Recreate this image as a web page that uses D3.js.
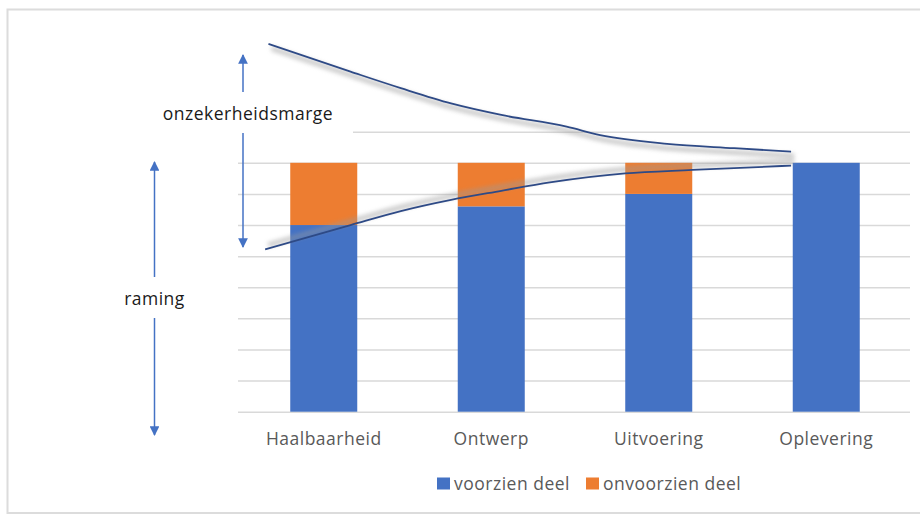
<!DOCTYPE html>
<html><head><meta charset="utf-8">
<script src="https://cdn.jsdelivr.net/npm/d3@7"></script>
<style>html,body{margin:0;padding:0;background:#fff;}svg{display:block;}</style>
</head><body><svg id="c" width="920" height="516"></svg>
<script>
// ---- data ----
const categories = ["Haalbaarheid", "Ontwerp", "Uitvoering", "Oplevering"];
const voorzien = [60, 66, 70, 80];
const onvoorzien = [20, 14, 10, 0];
const seriesNames = ["voorzien deel", "onvoorzien deel"];
const yTicks = [0, 10, 20, 30, 40, 50, 60, 70, 80, 90];
// uncertainty band curves (x in category-index units, y in chart value units)
const upperX = [-0.33, 0.16, 0.46, 0.76, 1.06, 1.45, 1.65, 2.05, 2.45, 2.79];
const upperY = [118.2, 109.3, 104.0, 99.1, 95.4, 91.6, 88.9, 86.1, 84.7, 83.6];
const lowerX = [-0.35, 0.16, 0.46, 0.76, 1.06, 1.35, 1.80, 2.20, 2.79];
const lowerY = [52.2, 60.0, 64.5, 68.1, 71.0, 73.7, 76.6, 77.7, 79.1];
const annotLabels = ["onzekerheidsmarge", "raming"];

(function () {
// ---- layout ----
const svg = d3.select("#c");
const W = 920, H = 516;
const pLeft = 240, pRight = 910, pTop = 131.7, pBottom = 411.7;
const blue = "#4472C4", orange = "#ED7D31", grid = "#D9D9D9", txt = "#595959", lineCol = "#2E4A86";
const font = "Open Sans, Noto Sans, sans-serif";
const ls = 0.5;

const x = d3.scaleBand().domain(categories).range([pLeft, pRight]).paddingInner(0.6).paddingOuter(0.3);
const y = d3.scaleLinear().domain([0, 90]).range([pBottom, pTop]);
const xc = d3.scaleLinear().domain([0, categories.length - 1])
  .range([x(categories[0]) + x.bandwidth() / 2, x(categories[categories.length - 1]) + x.bandwidth() / 2]);

const defs = svg.append("defs");
const f = defs.append("filter").attr("id", "blur").attr("x", "-10%").attr("y", "-50%").attr("width", "120%").attr("height", "200%");
f.append("feGaussianBlur").attr("stdDeviation", 2.2);
const m = defs.append("marker").attr("id", "arr").attr("viewBox", "0 0 10 10").attr("refX", 9).attr("refY", 5)
  .attr("markerWidth", 6.5).attr("markerHeight", 6.5).attr("markerUnits", "strokeWidth").attr("orient", "auto");
m.append("path").attr("d", "M0,0 L10,5 L0,10 Z").attr("fill", blue);

// background & border
svg.append("rect").attr("width", W).attr("height", H).attr("fill", "#fff");
svg.append("rect").attr("x", 7.5).attr("y", 9.5).attr("width", 930).attr("height", 503.5)
  .attr("fill", "none").attr("stroke", "#DCDCDC").attr("stroke-width", 2);

// gridlines
const yAxis = d3.axisLeft(y).tickValues(yTicks).tickSize(-(pRight - pLeft + 2)).tickFormat("");
const ga = svg.append("g").attr("transform", `translate(${pLeft - 2},0)`).call(yAxis);
ga.select(".domain").remove();
ga.selectAll(".tick line").attr("stroke", grid).attr("stroke-width", 1.5);

// stacked bars
const stackData = categories.map((c, i) => ({ cat: c, v: voorzien[i], o: onvoorzien[i] }));
const stack = d3.stack().keys(["v", "o"])(stackData);
const colors = [blue, orange];
svg.append("g").selectAll("g").data(stack).join("g").attr("fill", (d, i) => colors[i])
  .selectAll("rect").data(d => d).join("rect")
  .attr("x", d => x(d.data.cat)).attr("width", x.bandwidth())
  .attr("y", d => y(d[1])).attr("height", d => y(d[0]) - y(d[1]));

// category axis labels
const xAxis = d3.axisBottom(x).tickSize(0).tickPadding(0);
const gx = svg.append("g").attr("transform", `translate(0,${pBottom + 33.5})`).call(xAxis);
gx.select(".domain").remove();
gx.selectAll("text").attr("fill", txt).attr("font-family", font).attr("font-size", 17.5)
  .attr("letter-spacing", ls).attr("dy", 0);

// curves
const line = d3.line().x(d => xc(d[0])).y(d => y(d[1])).curve(d3.curveMonotoneX);
const upper = upperX.map((v, i) => [v, upperY[i]]);
const lower = lowerX.map((v, i) => [v, lowerY[i]]);
svg.append("path").attr("d", line(upper)).attr("fill", "none").attr("stroke", "#9a9a9a")
  .attr("stroke-width", 5).attr("opacity", 0.5).attr("filter", "url(#blur)").attr("transform", "translate(3,4.5)");
svg.append("path").attr("d", line(lower)).attr("fill", "none").attr("stroke", "#9a9a9a")
  .attr("stroke-width", 5).attr("opacity", 0.5).attr("filter", "url(#blur)").attr("transform", "translate(3,-4.5)");
svg.append("path").attr("d", line(upper)).attr("fill", "none").attr("stroke", lineCol).attr("stroke-width", 1.8);
svg.append("path").attr("d", line(lower)).attr("fill", "none").attr("stroke", lineCol).attr("stroke-width", 1.8);

// annotations: onzekerheidsmarge
const ax1 = 243, ax2 = 154.5;
svg.append("rect").attr("x", 150).attr("y", 93).attr("width", 203).attr("height", 40).attr("fill", "#fff");
svg.append("text").attr("x", 248).attr("y", 119.5).attr("text-anchor", "middle").attr("fill", "#1a1a1a")
  .attr("font-family", font).attr("font-size", 17.5).attr("letter-spacing", ls).text(annotLabels[0]);
svg.append("line").attr("x1", ax1).attr("x2", ax1).attr("y1", 92).attr("y2", 55)
  .attr("stroke", blue).attr("stroke-width", 1.5).attr("marker-end", "url(#arr)");
svg.append("line").attr("x1", ax1).attr("x2", ax1).attr("y1", 133).attr("y2", 247)
  .attr("stroke", blue).attr("stroke-width", 1.5).attr("marker-end", "url(#arr)");
// raming
svg.append("text").attr("x", ax2).attr("y", 305).attr("text-anchor", "middle").attr("fill", "#1a1a1a")
  .attr("font-family", font).attr("font-size", 17.5).attr("letter-spacing", ls).text(annotLabels[1]);
svg.append("line").attr("x1", ax2).attr("x2", ax2).attr("y1", 277).attr("y2", 162)
  .attr("stroke", blue).attr("stroke-width", 1.5).attr("marker-end", "url(#arr)");
svg.append("line").attr("x1", ax2).attr("x2", ax2).attr("y1", 318).attr("y2", 435)
  .attr("stroke", blue).attr("stroke-width", 1.5).attr("marker-end", "url(#arr)");

// legend
const legX = [437, 586];
const lg = svg.append("g");
seriesNames.forEach((n, i) => {
  lg.append("rect").attr("x", legX[i]).attr("y", 477.5).attr("width", 13).attr("height", 12).attr("fill", colors[i]);
  lg.append("text").attr("x", legX[i] + 17).attr("y", 490).attr("fill", txt)
    .attr("font-family", font).attr("font-size", 17.5).attr("letter-spacing", ls).text(n);
});
})();
</script></body></html>
